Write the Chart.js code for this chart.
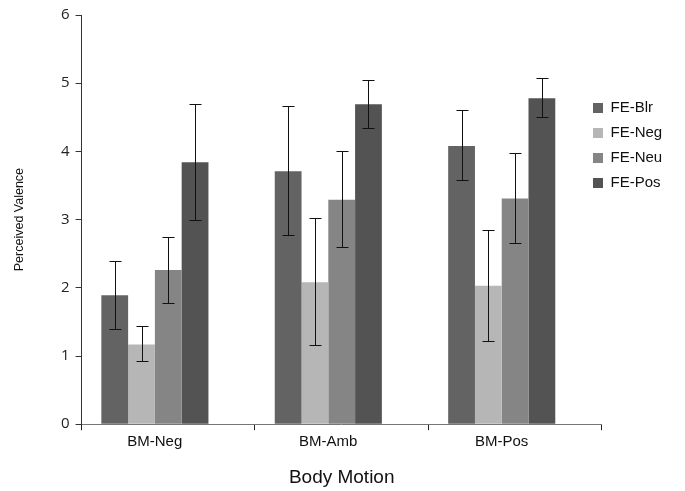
<!DOCTYPE html>
<html>
<head>
<meta charset="utf-8">
<script src="https://cdn.jsdelivr.net/npm/chart.js@4/dist/chart.umd.min.js"></script>
<style>
  html, body { margin: 0; padding: 0; background: #fff; }
  #wrap { width: 685px; height: 491px; }
</style>
</head>
<body>
<div id="wrap"><canvas id="c" width="685" height="491"></canvas></div>
<script>
// ---- data
var categories = ["BM-Neg", "BM-Amb", "BM-Pos"];
var seriesNames = ["FE-Blr", "FE-Neg", "FE-Neu", "FE-Pos"];
var seriesColors = ["#636363", "#b6b6b6", "#858585", "#535353"];

var blrVals = [1.89, 3.71, 4.08];
var negVals = [1.17, 2.08, 2.03];
var neuVals = [2.26, 3.29, 3.31];
var posVals = [3.84, 4.69, 4.78];

var blrLow = [1.39, 2.77, 3.58], blrHigh = [2.40, 4.67, 4.60];
var negLow = [0.93, 1.16, 1.22], negHigh = [1.44, 3.02, 2.85];
var neuLow = [1.77, 2.60, 2.66], neuHigh = [2.75, 4.00, 3.97];
var posLow = [3.00, 4.35, 4.50], posHigh = [4.70, 5.05, 5.07];

var values = [blrVals, negVals, neuVals, posVals];
var lows = [blrLow, negLow, neuLow, posLow];
var highs = [blrHigh, negHigh, neuHigh, posHigh];

var datasets = seriesNames.map(function (n, i) {
  return {
    label: n,
    data: values[i],
    backgroundColor: seriesColors[i],
    borderWidth: 0,
    errLow: lows[i],
    errHigh: highs[i]
  };
});
// empty slot so the four bars sit left of the category centre, as in the original
datasets.push({ label: "", data: [null, null, null], backgroundColor: "rgba(0,0,0,0)" });

// ---- error bars
var errorBars = {
  id: "errorBars",
  afterDatasetsDraw: function (chart) {
    var ctx = chart.ctx;
    var ys = chart.scales.y;
    ctx.save();
    ctx.strokeStyle = "#111";
    ctx.lineWidth = 1;
    chart.data.datasets.forEach(function (ds, i) {
      if (!ds.errLow) return;
      var meta = chart.getDatasetMeta(i);
      meta.data.forEach(function (bar, j) {
        var x = Math.round(bar.x) + 0.5;
        var y1 = Math.round(ys.getPixelForValue(ds.errLow[j])) + 0.5;
        var y2 = Math.round(ys.getPixelForValue(ds.errHigh[j])) + 0.5;
        ctx.beginPath();
        ctx.moveTo(x, y1); ctx.lineTo(x, y2);
        ctx.moveTo(x - 6, y1); ctx.lineTo(x + 6, y1);
        ctx.moveTo(x - 6, y2); ctx.lineTo(x + 6, y2);
        ctx.stroke();
      });
    });
    ctx.restore();
  }
};

// legend in the original overlaps the right end of the axis a little
var legendShift = {
  id: "legendShift",
  afterLayout: function (chart) {
    var lg = chart.legend;
    var dx = lg.left - 583;
    lg.left -= dx;
    lg.right -= dx;
  }
};

var ctxc = document.getElementById("c").getContext("2d");
new Chart(ctxc, {
  type: "bar",
  data: { labels: categories, datasets: datasets },
  plugins: [errorBars, legendShift],
  options: {
    responsive: false,
    animation: false,
    layout: { padding: { top: 6, right: -6, left: 12, bottom: 2 } },
    datasets: { bar: { categoryPercentage: 0.772, barPercentage: 1.0 } },
    plugins: {
      tooltip: { enabled: false },
      legend: {
        position: "right",
        align: "start",
        title: { display: true, text: "", padding: 35 },
        labels: {
          boxWidth: 10, boxHeight: 10, padding: 10,
          color: "#111",
          font: { family: "'Liberation Sans', Arial, sans-serif", size: 15 },
          filter: function (item) { return item.text !== ""; }
        }
      }
    },
    scales: {
      x: {
        offset: true,
        grid: { offset: true, drawOnChartArea: false, drawTicks: true, tickLength: 6, color: "#222" },
        border: { color: "#777", width: 1 },
        ticks: {
          labelOffset: -13.5, padding: 3, color: "#111",
          font: { family: "'Liberation Sans', Arial, sans-serif", size: 15 }
        },
        title: {
          display: true, text: "Body Motion", color: "#111", padding: { top: 12, bottom: 0 },
          font: { family: "'Liberation Sans', Arial, sans-serif", size: 19 }
        }
      },
      y: {
        min: 0, max: 6,
        grid: { drawOnChartArea: false, drawTicks: true, tickLength: 6, color: "#333" },
        border: { color: "#333", width: 1 },
        ticks: {
          stepSize: 1, padding: 6, color: "#222",
          font: { family: "'Open Sans', 'Liberation Sans', sans-serif", size: 15 }
        },
        title: {
          display: true, text: "Perceived Valence", color: "#111", padding: { top: 0, bottom: 28 },
          font: { family: "'Liberation Sans', Arial, sans-serif", size: 12.5 }
        }
      }
    }
  }
});
</script>
</body>
</html>
